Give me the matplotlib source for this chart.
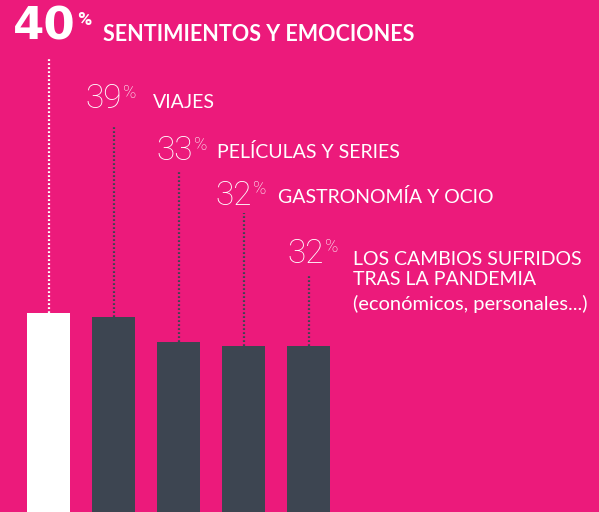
import matplotlib.pyplot as plt

# data
pcts = [40, 39, 33, 32, 32]
labels = [
    ['SENTIMIENTOS Y EMOCIONES'],
    ['VIAJES'],
    ['PELÍCULAS Y SERIES'],
    ['GASTRONOMÍA Y OCIO'],
    ['LOS CAMBIOS SUFRIDOS', 'TRAS LA PANDEMIA', '(económicos, personales...)'],
]
bar_colors = ['white', '#3d4551', '#3d4551', '#3d4551', '#3d4551']

bg = '#ec1a7b'
W, H = 599, 512

fig = plt.figure(figsize=(W / 100, H / 100), dpi=100, facecolor=bg)
ax = fig.add_axes([0, 0, 1, 1])
ax.set_facecolor(bg)

# scale: 65 px per bar slot, ~4.15 px per percent point
px_x = 65.0
px_y = 4.146
ymin = -8
ax.set_xlim(-48.5 / px_x, (W - 48.5) / px_x)
ax.set_ylim(ymin, ymin + H / px_y)
ax.axis('off')


def to_y(py):
    return ymin + (H - py) / px_y


xs = list(range(len(pcts)))
ax.bar(xs, [p - ymin for p in pcts], bottom=ymin, width=43 / px_x,
       color=bar_colors, zorder=2)

# dotted leader lines up to each label
line_tops = [57, 125, 170, 213, 274]
for i, p in enumerate(pcts):
    c = 'white' if i == 0 else '#3d4551'
    ax.plot([i, i], [p, to_y(line_tops[i])], color=c, lw=1.6,
            linestyle=(0, (0.8, 1.0)), zorder=1)


def ftxt(x, y, s, family='Lato', ha='left', **kw):
    fig.text(x / W, 1 - y / H, s, color='white', family=family,
             va='baseline', ha=ha, **kw)


# first (highlighted) label
ftxt(76, 40, f'{pcts[0]}', family='DejaVu Sans', fontsize=32.5,
     fontweight='bold', ha='right')
ftxt(77, 25, '%', family='Roboto', fontsize=14, fontweight='bold')
ftxt(103, 41, labels[0][0], fontsize=15.5, fontweight='bold')

# other labels: (% x, number baseline, % baseline, label x, label baseline)
pos = [
    (122, 108, 98, 153, 108),
    (193, 160, 150, 217, 158),
    (252, 205, 194, 278, 203),
    (324, 263, 252, 353, 265),
]
line_gaps = [0, 20, 45]
for (qx, ny, qy, lx, ly), p, lab in zip(pos, pcts[1:], labels[1:]):
    ftxt(qx, ny, f'{p}', family='Roboto', fontsize=24, fontweight='light',
         ha='right')
    ftxt(qx + 1, qy, '%', family='Roboto', fontsize=13, fontweight='light')
    for k, line in enumerate(lab):
        ftxt(lx, ly + line_gaps[k], line, fontsize=14.5 if k == 2 else 14)

fig.savefig('out.png', dpi=100, facecolor=bg)
